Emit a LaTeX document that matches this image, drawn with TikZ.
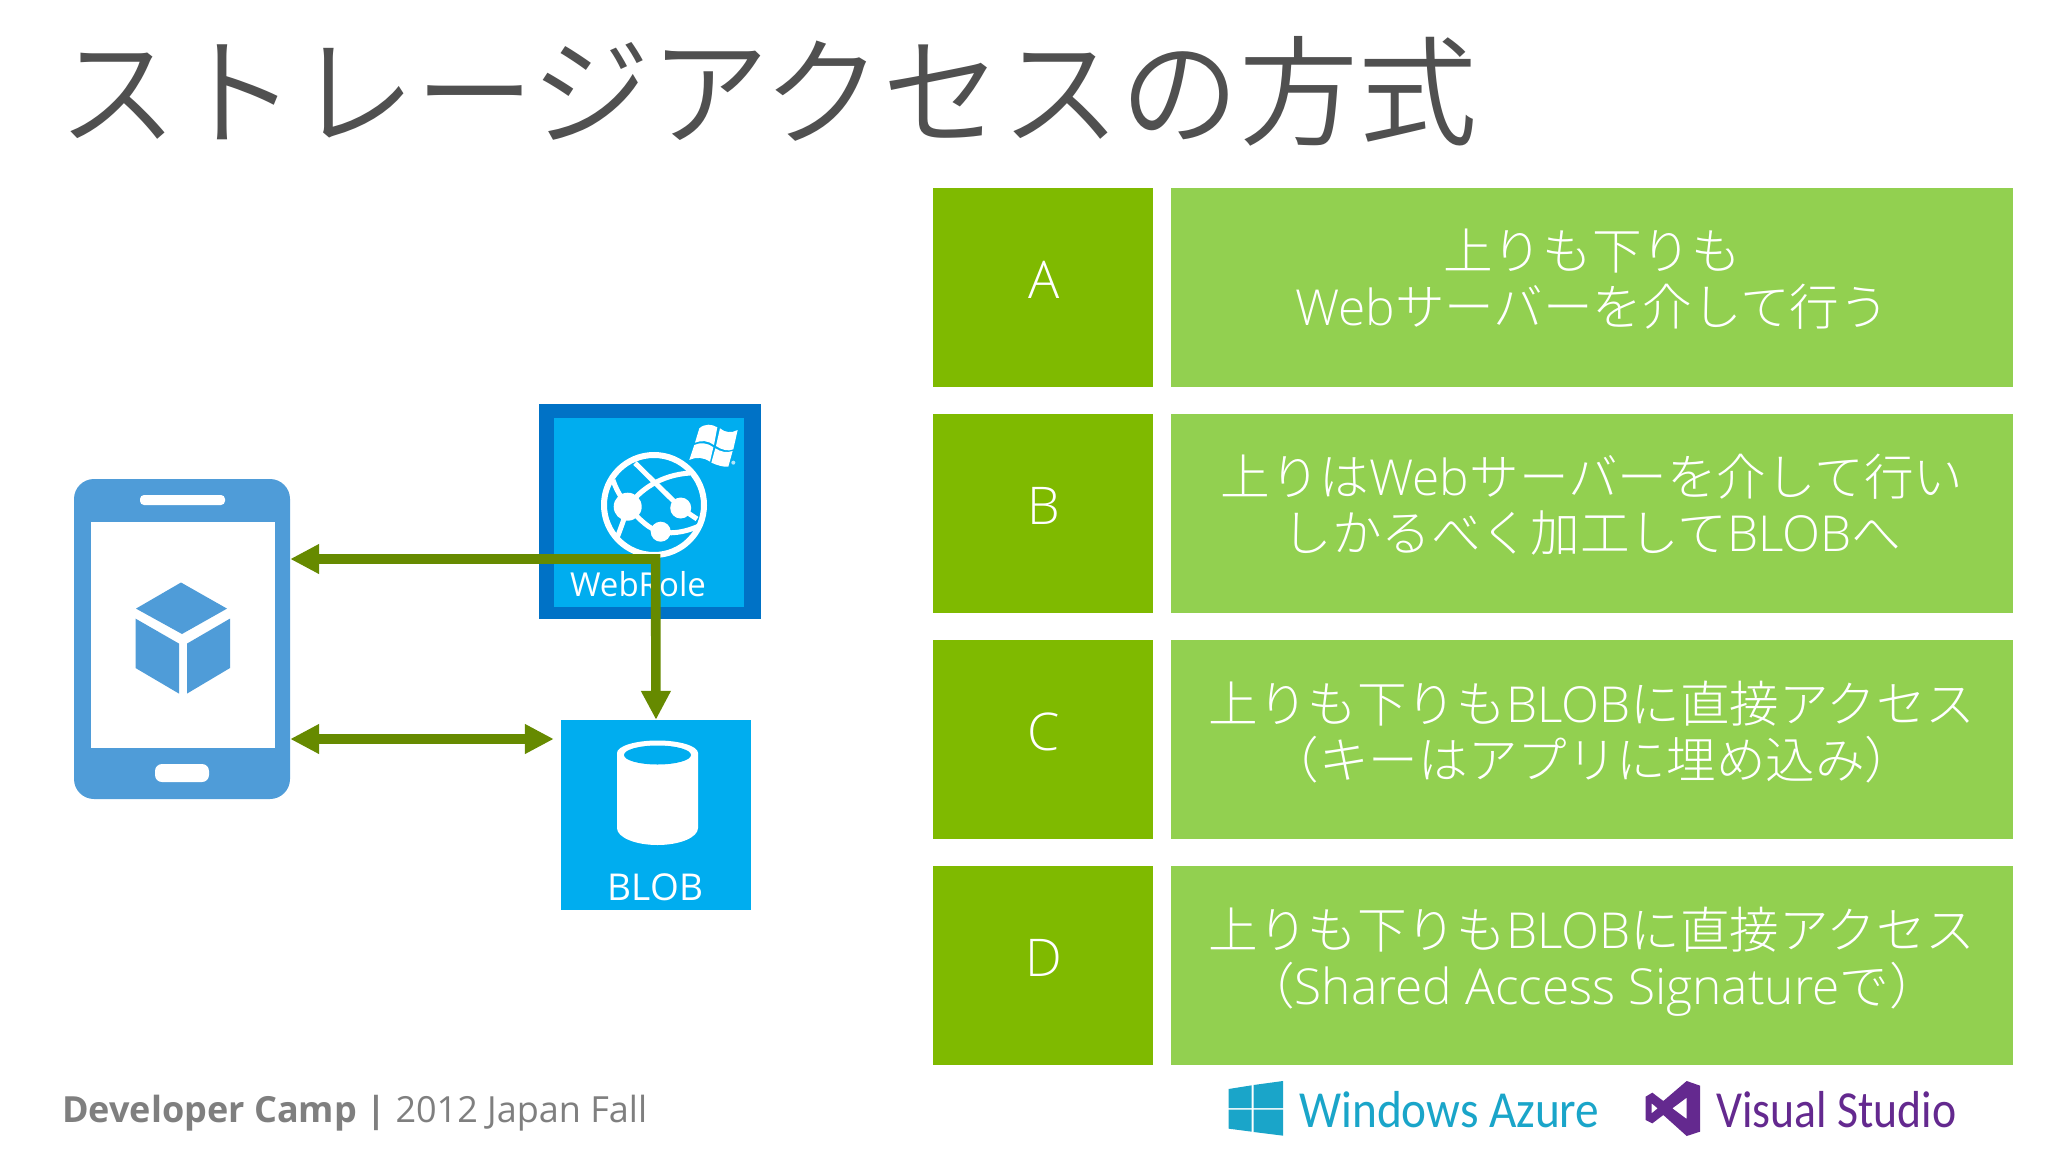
\documentclass[tikz,border=0pt]{standalone}
\usepackage{fontspec}
\usetikzlibrary{arrows.meta,calc}
\setmainfont{Noto Sans CJK JP Light}
\newfontfamily\titlef{Noto Sans CJK JP DemiLight}
\newfontfamily\latf[UprightFont=* Light]{Open Sans}
\newcommand{\lat}[1]{{\latf #1}}
\newfontfamily\opn{Open Sans}
\newfontfamily\car[FakeStretch=0.88]{Carlito}
\newfontfamily\carw[FakeStretch=0.91]{Carlito}
\definecolor{dgreen}{HTML}{7FBA00}
\definecolor{lgreen}{HTML}{92D050}
\definecolor{arrowg}{HTML}{668A00}
\definecolor{phoneb}{HTML}{4F9CD8}
\definecolor{sky}{HTML}{00ADEF}
\definecolor{roleb}{HTML}{0072C6}
\definecolor{titleg}{HTML}{505050}
\definecolor{footg}{HTML}{7F7F7F}
\definecolor{azure}{HTML}{1AA5C9}
\definecolor{vsp}{HTML}{64298F}
\tikzset{
  x=1pt,y=-1pt,
  letterbox/.style={fill=dgreen,draw=none,minimum width=220pt,minimum height=199pt,inner sep=0pt,anchor=north west},
  textbox/.style={fill=lgreen,draw=none,minimum width=842pt,minimum height=199pt,inner sep=0pt,anchor=north west},
  lettertext/.style={text=white,inner sep=0pt,font=\latf\fontsize{52}{56}\selectfont},
  boxtext/.style={text=white,inner sep=0pt,align=center,font=\fontsize{49.6}{56}\selectfont},
  link/.style={draw=arrowg,line width=9.6pt,line join=miter,{Triangle[length=29pt,width=28pt]}-{Triangle[length=29pt,width=28pt]}},
}
\begin{document}
\begin{tikzpicture}
\useasboundingbox (0,0) rectangle (2048,1153);
\fill[white] (0,0) rectangle (2048,1153);
\node[text=titleg,inner sep=0pt,font=\titlef\fontsize{119}{124}\selectfont] (title) at (768,91) {ストレージアクセスの方式};
% right side
\node[letterbox] (la) at (933,188) {};
\node[textbox] (ta) at (1171,188) {};
\node[letterbox] (lb) at (933,414) {};
\node[textbox] (tb) at (1171,414) {};
\node[letterbox] (lc) at (933,640) {};
\node[textbox] (tc) at (1171,640) {};
\node[letterbox] (ld) at (933,866) {};
\node[textbox] (td) at (1171,866) {};
\node[lettertext] (a) at (1044,280) {A};
\node[lettertext] (b) at (1044,506) {B};
\node[lettertext] (c) at (1044,732) {C};
\node[lettertext] (d) at (1044,958) {D};
\node[boxtext] (ax) at (1592,279) {上りも下りも\\\lat{Web}サーバーを介して行う};
\node[boxtext] (bx) at (1592,505) {上りは\lat{Web}サーバーを介して行い\\しかるべく加工して\lat{BLOB}へ};
\node[boxtext] (cx) at (1592,732) {上りも下りも\lat{BLOB}に直接アクセス\\（キーはアプリに埋め込み）};
\node[boxtext] (dx) at (1592,962) {上りも下りも\lat{BLOB}に直接アクセス\\（\lat{Shared Access Signature}で）};
% phone
\node[fill=phoneb,rounded corners=20pt,minimum width=216pt,minimum height=320pt,inner sep=0pt] (phone) at (182,639) {};
\fill[white] (91,522) rectangle (275,748);
\fill[white,rounded corners=4pt] (140,495) rectangle (225,505);
\fill[white,rounded corners=7pt] (155,764) rectangle (209,782);
\fill[phoneb] (181,582.5) -- (227,608.6) -- (182,634) -- (136,608.6) -- cycle;
\fill[phoneb] (135.5,618.6) -- (179,643.6) -- (179,693.6) -- (135.5,668) -- cycle;
\fill[phoneb] (187,643.6) -- (230,618.6) -- (230,668) -- (187,693.6) -- cycle;
% web role
\node[fill=roleb,minimum width=222pt,minimum height=214.5pt,inner sep=0pt] (role) at (650,511.3) {};
\fill[sky] (554,417.5) rectangle (744,607);
\draw[white,line width=6pt] (654,505) circle[radius=50];
\fill[white] (627.7,506.7) circle[radius=14] (680.7,508) circle[radius=10.5] (660.7,531.7) circle[radius=10];
\draw[white,line width=5pt] (635,463) -- (680.7,508) -- (697,519);
\draw[white,line width=5pt] (627.7,506.7) .. controls (640,490) and (660,475) .. (690,473);
\draw[white,line width=5pt] (627.7,506.7) .. controls (640,520) and (650,530) .. (660.7,531.7) .. controls (675,535) and (690,530) .. (699,526);
\draw[white,line width=5pt] (613,480) .. controls (618,495) and (624,500) .. (627.7,506.7) .. controls (624,520) and (620,530) .. (617,538);
\begin{scope}[shift={(590,410)},x=.3333pt,y=-.3333pt]
\fill[white] (328,55) .. controls (345,40) and (365,42) .. (382,52) -- (372,105) .. controls (355,92) and (335,90) .. (315,98) -- cycle;
\fill[white] (390,55) .. controls (405,68) and (425,70) .. (443,60) -- (430,118) .. controls (415,125) and (395,120) .. (378,108) -- cycle;
\fill[white] (313,105) .. controls (330,97) and (350,97) .. (370,112) -- (360,155) .. controls (340,142) and (320,140) .. (298,150) -- cycle;
\fill[white] (376,115) .. controls (392,125) and (410,130) .. (428,123) -- (415,170) .. controls (400,172) and (380,165) .. (364,158) -- cycle;
\fill[white!70!sky] (430,158) circle[radius=6];
\end{scope}
\node[text=white,inner sep=0pt,font=\opn\fontsize{33}{36}\selectfont] (rolet) at (638,584) {WebRole};
% blob
\node[fill=sky,minimum width=190pt,minimum height=190pt,inner sep=0pt] (blob) at (656,815) {};
\fill[white] (617,753) -- (617,828) arc[start angle=180,end angle=0,x radius=40.5,y radius=17] -- (698,753) -- cycle;
\fill[white] (657.5,753) ellipse[x radius=40.5,y radius=12.5];
\fill[sky] (657.5,755) ellipse[x radius=33.5,y radius=9.5];
\node[text=white,inner sep=0pt,font=\opn\fontsize{37}{38}\selectfont] (blobt) at (655.5,887) {BLOB};
% connectors
\coordinate (bend) at (655.6,559);
\coordinate (mid) at (400,739);
\draw[link] (phone.east |- bend) -- (bend) -- (blob.north);
\draw[link,shorten >=7pt] (phone.east |- mid) -- (blob.west |- mid);
% footer
\node[anchor=west,inner sep=0pt,text=footg,font=\opn\fontsize{36}{40}\selectfont] (foot) at (62,1113) {\textbf{Developer Camp |} 2012 Japan Fall};
% logos
\begin{scope}[shift={(1220,1070)},x=.3333pt,y=-.3333pt]
\fill[azure] (26,57) -- (95,46) -- (95,114) -- (26,114) -- cycle;
\fill[azure] (101,45) -- (189,33) -- (189,114) -- (101,114) -- cycle;
\fill[azure] (26,119) -- (95,119) -- (95,185) -- (26,176) -- cycle;
\fill[azure] (101,119) -- (189,119) -- (189,197) -- (101,186) -- cycle;
\end{scope}
\node[anchor=west,inner sep=0pt,text=azure,font=\carw\fontsize{52}{56}\selectfont] (az) at (1299,1110) {Windows Azure};
\begin{scope}[shift={(1635,1070)},x=.3333pt,y=-.3333pt]
\fill[vsp,even odd rule] (155,33) -- (195,47) -- (195,185) -- (155,198) -- (85,135) -- (52,160) -- (32,150) -- (32,80) -- (52,68) -- (85,93) -- cycle
 (50,100) -- (50,130) -- (68,115) -- cycle (155,83) -- (155,147) -- (112,115) -- cycle;
\end{scope}
\node[anchor=west,inner sep=0pt,text=vsp,font=\car\fontsize{52}{56}\selectfont] (vs) at (1716,1110) {Visual Studio};
\end{tikzpicture}
\end{document}
